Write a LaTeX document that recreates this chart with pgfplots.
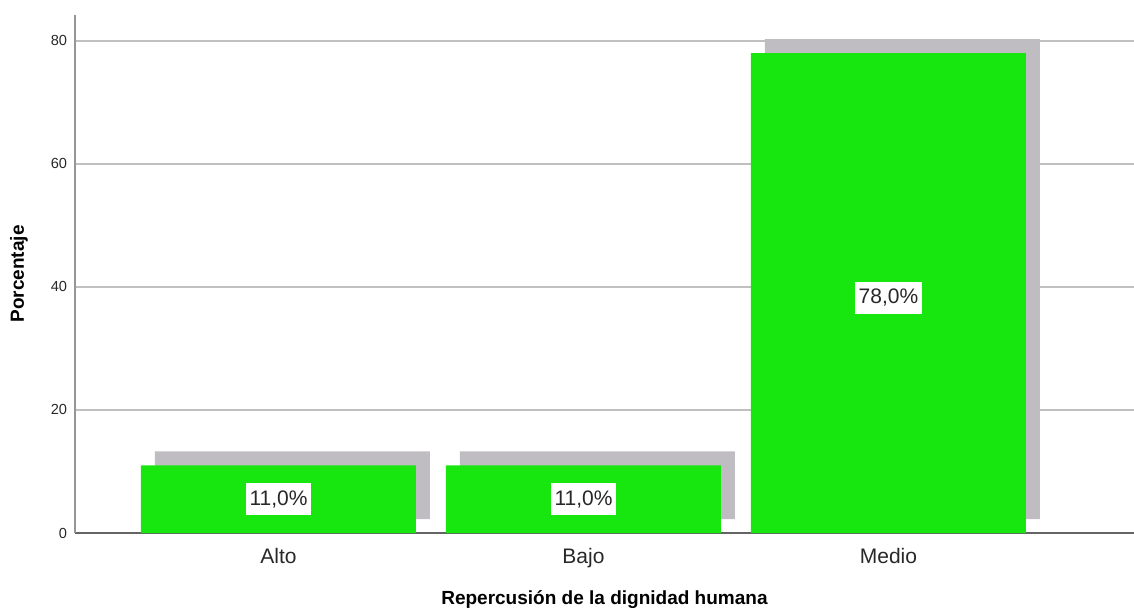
\documentclass[border=0pt]{standalone}
\usepackage{fontspec}
\setmainfont{Liberation Sans}
\usepackage{pgfplots}
\pgfplotsset{compat=1.18}
\definecolor{barverde}{RGB}{23,230,15}
\definecolor{sombra}{RGB}{191,189,193}
\definecolor{rejilla}{RGB}{192,192,192}
\definecolor{ejey}{RGB}{150,150,150}
\definecolor{ejex}{RGB}{100,100,100}
\definecolor{texto}{RGB}{40,40,40}

\begin{document}
\begin{tikzpicture}
  \begin{axis}
    [ scale only axis
    , width=529.5pt
    , height=259pt
    , xmin=-0.6672
    , xmax=2.805
    , ymin=0
    , ymax=84.2
    , axis x line=bottom
    , axis y line=left
    , axis line style={-}
    , x axis line style={ejex, line width=0.8pt}
    , y axis line style={ejey, line width=1pt}
    , xtick={0,1,2}
    , xticklabels={Alto,Bajo,Medio}
    , ytick={0,20,...,80}
    , major tick length=0pt
    , ymajorgrids=true
    , grid style={rejilla, line width=0.7pt}
    , /pgf/number format/assume math mode=true
    , xticklabel style={font=\fontsize{10.5}{12}\selectfont, text=texto,
        anchor=base, inner sep=0pt, yshift=-15pt}
    , yticklabel style={font=\fontsize{7.3}{8}\selectfont, text=texto,
        anchor=east, inner sep=0pt, xshift=-3.8pt}
    , xlabel={\textbf{Repercusión de la dignidad humana}}
    , ylabel={\textbf{Porcentaje}}
    , xlabel style={font=\fontsize{9.5}{11}\selectfont, at={(axis description cs:0.5,0)},
        anchor=center, inner sep=0pt, yshift=-33.5pt}
    , ylabel style={font=\fontsize{9.5}{11}\selectfont, at={(axis description cs:0,0.5)},
        anchor=center, inner sep=0pt, yshift=28pt}
    , clip=false
    ]
    % sombra gris desplazada
    \addplot[ybar, bar width=137.5pt, bar shift=7pt, yshift=7pt,
      fill=sombra, draw=none]
      coordinates {(0,11) (1,11) (2,78)};
    % barras
    \addplot[ybar, bar width=137.5pt, bar shift=0pt, fill=barverde, draw=none]
      coordinates {(0,11) (1,11) (2,78)};
    % etiquetas en el centro de cada barra
    \addplot[draw=none, mark=none, nodes near coords, point meta=explicit symbolic,
      every node near coord/.append style={anchor=center, fill=white, text=texto,
        font=\fontsize{10.5}{12}\selectfont, inner xsep=2pt, inner ysep=3.5pt}]
      coordinates {(0,5.5) [{11,0\%}] (1,5.5) [{11,0\%}] (2,38.2) [{78,0\%}]};
  \end{axis}
  \pgfresetboundingbox
  \path[use as bounding box] (-37.5pt,-39pt) rectangle (529.5pt,266.5pt);
\end{tikzpicture}
\end{document}
